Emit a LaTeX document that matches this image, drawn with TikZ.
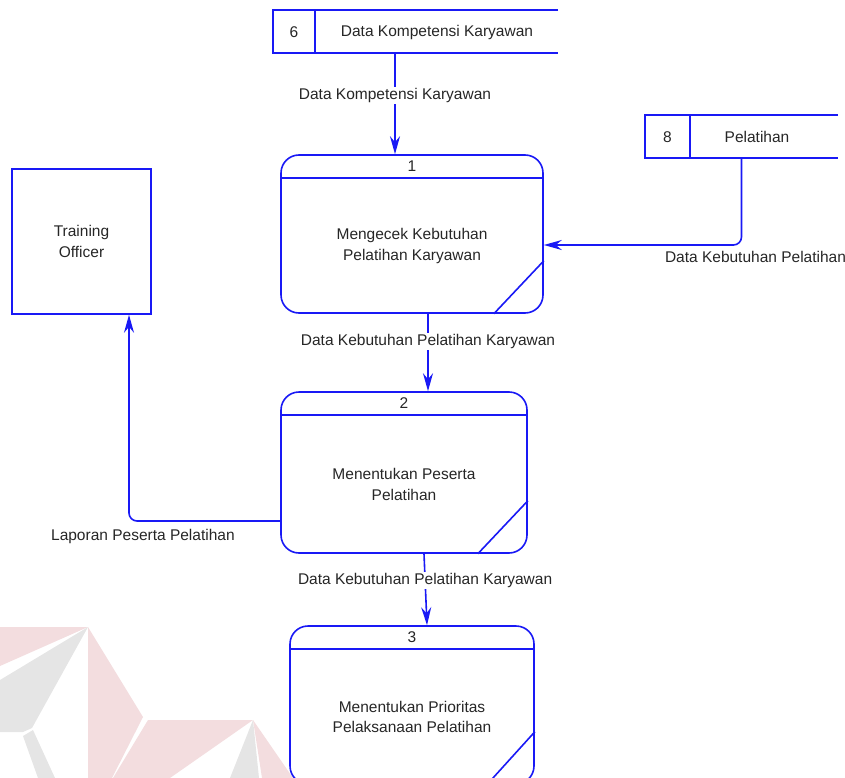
\documentclass[tikz,border=0pt]{standalone}
\usepackage{fontspec}
\setmainfont{Liberation Sans}
\usetikzlibrary{arrows.meta}

\definecolor{dfdblue}{RGB}{25,25,245}
\definecolor{wmpink}{RGB}{243,221,223}
\definecolor{wmgrey}{RGB}{229,229,229}

\tikzset{
  proc/.style={draw=dfdblue, line width=1.6pt, rounded corners=18pt, inner sep=0pt},
  entity/.style={draw=dfdblue, line width=1.6pt, inner sep=0pt, align=center},
  storebox/.style={inner sep=0pt},
  storeline/.style={draw=dfdblue, line width=1.6pt},
  flow/.style={draw=dfdblue, line width=1.6pt, -{Stealth[length=18pt,width=10pt,inset=6pt]}},
  flowlabel/.style={fill=white, inner sep=1.5pt},
  ptext/.style={align=center}
}

\begin{document}
\begin{tikzpicture}[x=1pt, y=-1pt,
  every node/.style={font=\fontsize{15.5}{20.5}\selectfont, text=black!85}]
  \useasboundingbox (0,0) rectangle (845,778);

  % Watermark
  \fill[wmpink] (0,627) -- (88,627) -- (0,666) -- cycle;
  \fill[wmgrey] (88,627) -- (0,680) -- (0,732) -- (23,732) -- (32,728) -- cycle;
  \fill[wmgrey] (23,736) -- (33,730) -- (55,778) -- (38,778) -- cycle;
  \fill[wmpink] (88,627) -- (143,717) -- (112,778) -- (88,778) -- cycle;
  \fill[wmpink] (148,720) -- (253,720) -- (170,778) -- (113,778) -- cycle;
  \fill[wmgrey] (253,720) -- (259,778) -- (230,778) -- cycle;
  \fill[wmpink] (253,720) -- (293,778) -- (262,778) -- cycle;

  % Data stores
  \node[storebox, minimum width=285pt, minimum height=43pt] (s6) at (415.5,31.5) {};
  \draw[storeline] (s6.north east) -- (s6.north west) -- (s6.south west) -- (s6.south east);
  \draw[storeline] ([xshift=42pt]s6.north west) -- ([xshift=42pt]s6.south west);
  \node at (294,32) {6};
  \node at (437,32) {Data Kompetensi Karyawan};

  \node[storebox, minimum width=193pt, minimum height=43pt] (s8) at (741.5,136.5) {};
  \draw[storeline] (s8.north east) -- (s8.north west) -- (s8.south west) -- (s8.south east);
  \draw[storeline] ([xshift=45pt]s8.north west) -- ([xshift=45pt]s8.south west);
  \node at (667.5,137) {8};
  \node at (757,137) {Pelatihan};

  % External entity
  \node[entity, minimum width=139pt, minimum height=145pt] (officer) at (81.5,241.5) {Training\\Officer};

  % Processes
  \node[proc, minimum width=262pt, minimum height=158pt] (p1) at (412,234) {};
  \draw[storeline] ([yshift=-24pt]p1.north west) -- ([yshift=-24pt]p1.north east);
  \draw[storeline] ([xshift=-50pt]p1.south east) -- ([yshift=53pt]p1.south east);
  \node at ([yshift=-12pt]p1.north) {1};
  \node[ptext] at ([yshift=-12pt]p1.center) {Mengecek Kebutuhan\\Pelatihan Karyawan};

  \node[proc, minimum width=246pt, minimum height=161pt] (p2) at (404,472.5) {};
  \draw[storeline] ([yshift=-24pt]p2.north west) -- ([yshift=-24pt]p2.north east);
  \draw[storeline] ([xshift=-50pt]p2.south east) -- ([yshift=53pt]p2.south east);
  \node at ([yshift=-12pt]p2.north) {2};
  \node[ptext] at ([yshift=-12pt]p2.center) {Menentukan Peserta\\Pelatihan};

  \node[proc, minimum width=244pt, minimum height=158pt] (p3) at (412,705) {};
  \draw[storeline] ([yshift=-24pt]p3.north west) -- ([yshift=-24pt]p3.north east);
  \draw[storeline] ([xshift=-48pt]p3.south east) -- ([yshift=53pt]p3.south east);
  \node at ([yshift=-12pt]p3.north) {3};
  \node[ptext] at ([yshift=-12pt]p3.center) {Menentukan Prioritas\\Pelaksanaan Pelatihan};

  % Data flows
  \draw[flow] ([xshift=-20.5pt]s6.south) -- ([xshift=-17pt]p1.north)
    node[flowlabel, pos=0.42] {Data Kompetensi Karyawan}; % Store 6 into 1
  \draw[flow, rounded corners=8pt] (s8.south) |- ([yshift=-11pt]p1.east)
    node[pos=0.5, below=5.5pt, xshift=14pt, inner sep=0pt] {Data Kebutuhan Pelatihan}; % Store 8 into 1
  \draw[flow] ([xshift=16pt]p1.south) -- ([xshift=24pt]p2.north)
    node[flowlabel, pos=0.36] {Data Kebutuhan Pelatihan Karyawan}; % 1 to 2
  \draw[flow] ([xshift=20pt]p2.south) -- ([xshift=15pt]p3.north)
    node[flowlabel, pos=0.37] {Data Kebutuhan Pelatihan Karyawan}; % 2 to 3
  \draw[flow, rounded corners=8pt] ([yshift=-48.5pt]p2.west) -| ([xshift=47.5pt]officer.south)
    node[pos=0.454, below=7pt, inner sep=0pt] {Laporan Peserta Pelatihan}; % 2 to officer
\end{tikzpicture}
\end{document}
